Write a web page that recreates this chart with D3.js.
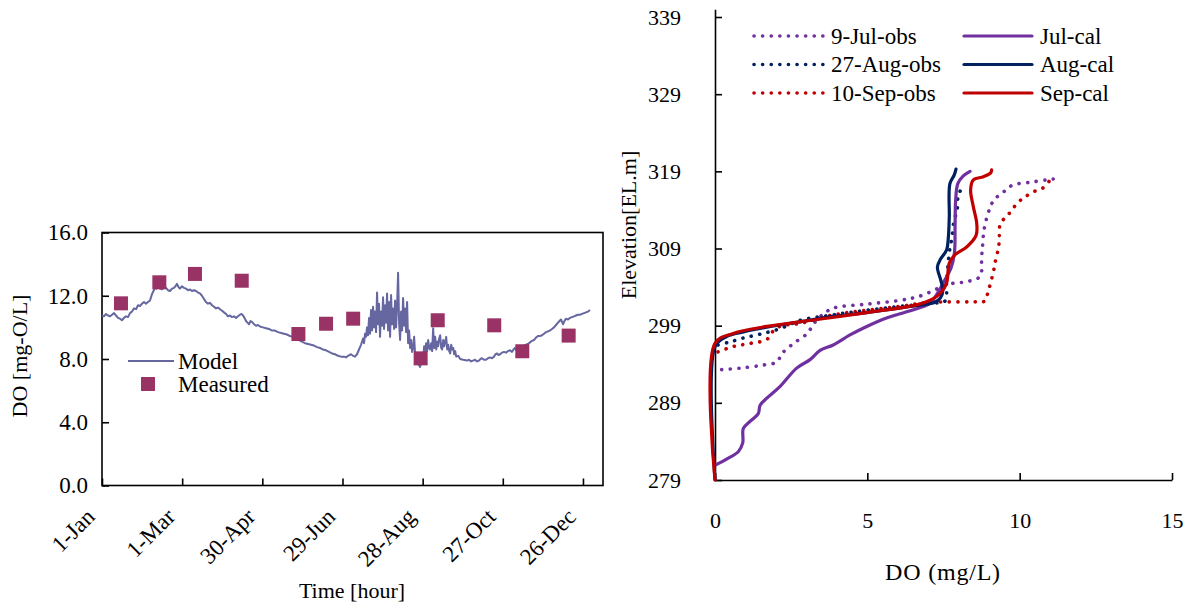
<!DOCTYPE html>
<html>
<head>
<meta charset="utf-8">
<script src="https://cdn.jsdelivr.net/npm/d3@7"></script>
<style>
  body { margin: 0; background: #fff; }
  svg { display: block; }
  text { font-family: "Liberation Serif", "Times New Roman", serif; fill: #000; }
  .domain, .tick line { stroke: #000; stroke-width: 1.6; }
</style>
</head>
<body>
<svg width="1194" height="606"></svg>
<script>
var serif = "'Liberation Serif', 'Times New Roman', serif";

// ---- left chart: DO time series (hours) ----
var xTickLabels = ["1-Jan", "1-Mar", "30-Apr", "29-Jun", "28-Aug", "27-Oct", "26-Dec"];
var yTicksLeft = [0, 4, 8, 12, 16];

// model line as [hour, DO]
var modelSeries = [
  [0,10.75],[36,10.7],[72,10.85],[108,10.75],[144,10.7],[180,10.8],[216,10.9],[252,10.75],[287,10.6],[323,10.55],[359,10.45],
  [395,10.6],[431,10.7],[467,10.65],[503,10.9],[539,11.0],[575,11.2],[611,11.15],[647,11.4],[683,11.35],[719,11.5],[755,11.6],
  [790,11.5],[826,11.6],[862,11.7],[898,12.1],[925,12.3],[952,12.5],[979,12.45],[1006,12.6],[1042,12.45],[1078,12.4],[1114,12.55],
  [1150,12.5],[1186,12.35],[1222,12.3],[1258,12.45],[1293,12.5],[1320,12.6],[1347,12.75],[1374,12.55],[1401,12.45],[1437,12.6],
  [1473,12.5],[1509,12.45],[1545,12.35],[1581,12.4],[1617,12.3],[1653,12.35],[1689,12.3],[1725,12.2],[1760,12.15],[1796,12.0],
  [1832,11.8],[1868,11.6],[1904,11.5],[1940,11.55],[1976,11.4],[2012,11.3],[2048,11.2],[2084,11.25],[2120,11.15],[2156,11.05],
  [2192,10.95],[2228,10.85],[2263,10.7],[2299,10.75],[2335,10.65],[2371,10.7],[2407,10.6],[2443,10.7],[2479,10.8],[2506,10.85],
  [2533,10.75],[2560,10.6],[2587,10.4],[2614,10.3],[2641,10.2],[2668,10.4],[2695,10.35],[2731,10.2],[2767,10.1],[2803,10.15],
  [2838,10.05],[2892,10.0],[2946,9.95],[3000,9.9],[3054,9.8],[3108,9.8],[3162,9.7],[3216,9.65],[3269,9.6],[3323,9.55],
  [3377,9.45],[3431,9.4],[3485,9.3],[3539,9.2],[3593,9.1],[3647,9.0],[3701,8.95],[3755,8.9],[3808,8.85],[3862,8.75],
  [3916,8.7],[3970,8.6],[4024,8.55],[4078,8.45],[4132,8.35],[4186,8.3],[4240,8.2],[4293,8.15],[4347,8.15],[4383,8.1],
  [4419,8.2],[4446,8.25],[4473,8.3],[4509,8.2],[4545,8.15],
  [4581,8.3],[4617,8.6],[4653,8.9],[4689,9.3],[4707,9.0],[4725,9.6],[4743,9.4],[4761,10.0],[4779,9.5],[4797,10.6],
  [4815,9.6],[4833,11.1],[4851,9.8],[4869,11.3],[4887,10.0],[4905,11.0],[4923,9.7],[4941,12.2],[4959,10.2],[4977,11.5],
  [4995,9.4],[5013,11.0],[5031,10.1],[5049,11.9],[5067,9.9],[5085,11.4],[5103,10.3],[5121,12.15],[5139,9.8],[5157,11.6],
  [5175,9.4],[5193,12.05],[5211,10.2],[5229,11.2],[5247,9.9],[5265,11.7],[5283,10.0],[5301,11.4],[5319,13.45],[5337,10.3],
  [5355,9.2],[5373,11.0],[5391,9.8],[5409,11.85],[5427,10.1],[5445,11.2],[5463,9.7],[5481,11.6],[5499,9.0],[5517,9.8],
  [5535,8.7],[5553,9.2],[5571,8.45],[5589,8.7],[5607,9.4],[5625,8.3],[5643,8.15],[5661,7.9],[5679,7.8],[5697,7.6],
  [5715,7.5],[5733,7.8],[5751,8.3],[5769,8.0],[5787,8.8],[5805,8.4],[5823,9.0],[5841,8.5],[5859,9.2],[5877,8.7],
  [5895,8.6],[5913,9.0],[5931,8.5],[5949,9.95],[5967,8.7],[5985,9.4],[6003,8.6],[6021,9.1],[6039,8.8],[6057,9.3],
  [6075,9.5],[6093,8.7],[6111,8.6],[6129,9.2],[6147,8.8],[6165,9.1],[6183,9.4],[6201,8.6],[6219,8.9],[6237,8.5],
  [6255,8.35],[6273,8.9],[6291,8.6],[6309,8.7],[6327,8.3],[6345,8.5],[6363,8.15],[6399,8.2],[6435,8.0],[6489,7.95],
  [6557,7.9],[6593,7.95],[6629,7.85],[6665,7.9],[6701,7.95],[6737,7.85],[6772,7.9],[6799,8.0],[6826,8.05],[6862,7.95],
  [6898,7.95],[6934,8.05],[6970,8.1],[7006,8.05],[7042,8.15],[7069,8.3],[7096,8.35],[7123,8.25],[7150,8.3],[7186,8.4],
  [7222,8.45],[7258,8.4],[7293,8.5],[7329,8.55],[7365,8.45],[7392,8.6],[7419,8.7],[7446,8.55],[7473,8.6],[7509,8.75],
  [7545,8.8],[7581,8.85],[7617,8.9],[7653,8.95],[7689,9.05],[7725,9.15],[7760,9.2],[7796,9.35],[7832,9.45],[7868,9.45],
  [7904,9.5],[7940,9.6],[7976,9.7],[8012,9.75],[8048,9.8],[8084,9.9],[8120,10.0],[8156,10.15],[8192,10.3],[8218,10.4],
  [8245,10.5],[8263,10.35],[8281,10.2],[8308,10.4],[8335,10.55],[8371,10.5],[8407,10.6],[8443,10.65],[8479,10.7],[8515,10.75],
  [8551,10.8],[8587,10.8],[8623,10.85],[8659,10.9],[8695,10.95],[8731,11.0],[8767,11.1]
];

var measuredHours = [341, 1030, 1670, 2510, 3528, 4025, 4512, 5724, 6031, 7046, 7550, 8383];
var measuredDO = [11.52, 12.85, 13.38, 12.95, 9.58, 10.23, 10.55, 8.04, 10.45, 10.13, 8.49, 9.48];

// ---- right chart: DO profiles [DO, elevation] ----
var yTicksRight = [279, 289, 299, 309, 319, 329, 339];
var xTicksRight = [0, 5, 10, 15];

var julObs = [[0.22,293.3],[0.82,293.5],[1.59,293.9],[2.03,294.3],[2.2,295.4],[2.58,296.7],[3.03,298],[3.25,299.3],
  [3.58,300.6],[3.91,301.3],[5.0,301.8],[6.1,302.3],[6.7,302.8],[7.49,304.1],[7.82,304.5],[8.26,304.7],[8.7,305.4],
  [8.75,307.9],[8.78,309.2],[8.83,311.4],[9.0,314],[9.16,315.3],[9.49,316.4],[9.76,317.2],[10.37,317.6],[10.9,317.9],[11.1,318.0]];
var augObs = [[0.1,296.5],[0.5,296.9],[0.93,297.4],[1.48,297.9],[2.13,298.6],[2.8,299.7],[3.88,300.4],[4.2,300.6],
  [6.07,301.5],[7.16,301.9],[7.55,302.2],[7.6,304.5],[7.65,307],[7.71,309.0],[7.77,310.2],[7.84,312.5],[7.95,314.0],
  [7.97,315.5],[8.02,316.2],[8.15,317.3]];
var sepObs = [[0.1,295.6],[0.6,296.3],[1.15,296.7],[1.7,297.2],[1.86,298.1],[2.13,298.9],[2.8,299.3],[3.88,300.4],
  [4.98,301.0],[6.07,301.5],[7.0,302.0],[8.4,302.1],[8.86,302.2],[8.95,303.2],[9.03,304.3],[9.14,306.0],[9.2,307.3],
  [9.31,309.2],[9.33,310.2],[9.37,312.3],[9.59,313.2],[9.76,314.1],[9.98,315.1],[10.15,315.6],[10.42,316.3],[10.75,316.8],
  [10.98,317.8],[11.0,318.1]];
var julCal = [[0,280.9],[0.38,281.7],[0.77,282.7],[0.91,283.8],[0.93,285.7],[1.15,286.6],[1.42,287.6],[1.48,288.7],
  [1.7,289.6],[2.13,291.1],[2.68,293.5],[3.12,294.6],[3.45,295.8],[3.88,296.5],[4.43,297.8],[4.98,298.9],[5.63,300.0],
  [6.29,300.8],[7.06,301.9],[7.3,303.2],[7.5,304.6],[7.75,306.5],[7.86,308.5],[7.88,312],[7.9,315.3],[7.97,317.4],
  [8.15,318.4],[8.37,319.0]];
var augCal = [[0,279],[0,296.3],[0.38,297.6],[0.93,298.2],[1.7,298.8],[2.8,299.5],[3.88,300.2],[4.98,300.7],[6.07,301.3],
  [6.95,301.8],[7.2,302.0],[7.4,302.6],[7.48,303.6],[7.41,304.9],[7.3,306.6],[7.4,307.6],[7.6,308.8],[7.66,310.5],
  [7.69,313.1],[7.71,317.4],[7.85,318.5],[7.91,319.3]];
var sepCal = [[0,279],[0,296.7],[0.6,298],[1.7,298.9],[3.35,299.8],[4.98,300.7],[6.62,301.7],[7.06,302.3],[7.4,303.2],
  [7.6,304.5],[7.69,307.1],[7.88,308.2],[8.26,309.2],[8.57,310.7],[8.59,312.3],[8.48,314.4],[8.39,316.6],[8.48,317.9],
  [8.81,318.3],[9.05,318.8],[9.08,319.2]];

var profiles = [
  {name: "9-Jul-obs", data: julObs, color: "#7030a0", dotted: true},
  {name: "27-Aug-obs", data: augObs, color: "#002060", dotted: true},
  {name: "10-Sep-obs", data: sepObs, color: "#c00000", dotted: true},
  {name: "Jul-cal", data: julCal, color: "#7030a0", dotted: false},
  {name: "Aug-cal", data: augCal, color: "#002060", dotted: false},
  {name: "Sep-cal", data: sepCal, color: "#c00000", dotted: false}
];

var svg = d3.select("svg").attr("font-family", serif);
svg.append("rect").attr("width", 1194).attr("height", 606).attr("fill", "#fff");

// ================= left chart =================
var xL = d3.scaleLinear().domain([0, 9000]).range([102, 603]);
var yL = d3.scaleLinear().domain([0, 16]).range([485.5, 232.5]);

var left = svg.append("g");

left.append("g")
    .attr("transform", "translate(0," + yL(0) + ")")
    .call(d3.axisBottom(xL).tickValues(d3.range(0, 8641, 1440))
        .tickSizeInner(-7).tickSizeOuter(0)
        .tickFormat(function(d, i) { return xTickLabels[i]; }))
    .attr("font-family", serif)
    .call(function(g) { g.select(".domain").remove(); })
    .selectAll("text")
      .attr("x", 0).attr("y", 0).attr("dy", "0.35em")
      .attr("text-anchor", "end")
      .attr("transform", "translate(-12,27) rotate(-45)")
      .style("font-family", serif)
      .style("font-size", "23px");

left.append("g")
    .attr("transform", "translate(" + xL(0) + ",0)")
    .call(d3.axisLeft(yL).tickValues(yTicksLeft)
        .tickSizeInner(-7).tickSizeOuter(0).tickPadding(14)
        .tickFormat(d3.format(".1f")))
    .attr("font-family", serif)
    .call(function(g) { g.select(".domain").remove(); })
    .selectAll("text")
      .style("font-family", serif)
      .style("font-size", "23px");

// frame
left.append("rect")
    .attr("x", xL(0)).attr("y", yL(16))
    .attr("width", xL(9000) - xL(0)).attr("height", yL(0) - yL(16))
    .attr("fill", "none").attr("stroke", "#000").attr("stroke-width", 1.6);

var modelLine = d3.line()
    .x(function(d) { return xL(d[0]); })
    .y(function(d) { return yL(d[1]); });

left.append("path")
    .datum(modelSeries)
    .attr("d", modelLine)
    .attr("fill", "none")
    .attr("stroke", "#6667a0")
    .attr("stroke-width", 2)
    .attr("stroke-linejoin", "round");

left.selectAll(".meas")
    .data(measuredHours)
    .enter().append("rect")
      .attr("class", "meas")
      .attr("x", function(d) { return xL(d) - 7; })
      .attr("y", function(d, i) { return yL(measuredDO[i]) - 7; })
      .attr("width", 14).attr("height", 14)
      .attr("fill", "#993366");

// legend
left.append("line").attr("x1", 128).attr("x2", 174).attr("y1", 361).attr("y2", 361)
    .attr("stroke", "#6667a0").attr("stroke-width", 2);
left.append("text").attr("x", 178).attr("y", 369).text("Model").style("font-size", "23px");
left.append("rect").attr("x", 141).attr("y", 377).attr("width", 14).attr("height", 14).attr("fill", "#993366");
left.append("text").attr("x", 178).attr("y", 392).text("Measured").style("font-size", "23px");

left.append("text")
    .attr("transform", "translate(27,356) rotate(-90)")
    .attr("text-anchor", "middle")
    .style("font-size", "22px")
    .text("DO [mg-O/L]");

left.append("text")
    .attr("x", 352).attr("y", 598)
    .attr("text-anchor", "middle")
    .style("font-size", "22px")
    .text("Time [hour]");

// ================= right chart =================
var xR = d3.scaleLinear().domain([0, 15]).range([715, 1172]);
var yR = d3.scaleLinear().domain([279, 340]).range([480, 9.3]);

var right = svg.append("g");

right.append("g")
    .attr("transform", "translate(0," + yR(279) + ")")
    .call(d3.axisBottom(xR).tickValues(xTicksRight)
        .tickSizeInner(-7).tickSizeOuter(0).tickPadding(32))
    .attr("font-family", serif)
    .selectAll("text")
      .style("font-family", serif)
      .style("font-size", "22px");

right.append("g")
    .attr("transform", "translate(" + xR(0) + ",0)")
    .call(d3.axisLeft(yR).tickValues(yTicksRight)
        .tickSizeInner(-7).tickSizeOuter(0).tickPadding(34))
    .attr("font-family", serif)
    .selectAll("text")
      .style("font-family", serif)
      .style("font-size", "22px");

var profLine = d3.line()
    .x(function(d) { return xR(d[0]); })
    .y(function(d) { return yR(d[1]); })
    .curve(d3.curveCatmullRom.alpha(0.5));

function styleProfile(sel) {
  sel.attr("fill", "none")
    .attr("stroke", function(d) { return d.color; })
    .attr("stroke-width", function(d) { return d.dotted ? 3.6 : 3.2; })
    .attr("stroke-linecap", "round")
    .attr("stroke-linejoin", "round")
    .attr("stroke-dasharray", function(d) { return d.dotted ? "0.1 8.5" : null; });
}

right.selectAll(".prof")
    .data(profiles)
    .enter().append("path")
      .attr("class", "prof")
      .attr("d", function(d) { return profLine(d.data); })
      .call(styleProfile);

// legend, two columns of three
var leg = right.selectAll(".leg")
    .data(profiles)
    .enter().append("g")
      .attr("class", "leg")
      .attr("transform", function(d, i) {
        var col = i < 3 ? 0 : 1;
        return "translate(" + (col ? 964 : 754) + "," + (36 + (i % 3) * 28.5) + ")";
      });

leg.append("path")
    .attr("d", function(d) { return d.dotted ? "M0,0H69" : "M0,0H68"; })
    .call(styleProfile);

leg.append("text")
    .attr("x", function(d) { return d.dotted ? 77 : 76; })
    .attr("y", 7.5)
    .style("font-size", "23px")
    .text(function(d) { return d.name; });

right.append("text")
    .attr("transform", "translate(636,225) rotate(-90)")
    .attr("text-anchor", "middle")
    .style("font-size", "22px")
    .text("Elevation[EL.m]");

right.append("text")
    .attr("x", 943).attr("y", 580)
    .attr("text-anchor", "middle")
    .style("font-size", "24px")
    .style("letter-spacing", "0.8px")
    .text("DO (mg/L)");
</script>
</body>
</html>
